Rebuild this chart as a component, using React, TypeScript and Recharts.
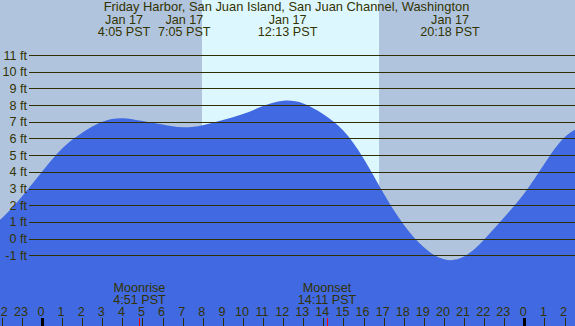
import React from 'react';
import { ComposedChart, Area, XAxis, YAxis, ReferenceArea } from 'recharts';

// Tide heights (ft) by hour from midnight Jan 17 (negative = Jan 16)
const hours = [-3, -2, -1, 0, 1, 2, 3, 4, 5, 6, 7, 8, 9, 10, 11, 12, 13, 14, 15, 16, 17, 18, 19, 20, 21, 22, 23, 24, 25, 26, 27];
const heights = [0.3, 1.22, 2.52, 4.0, 5.4, 6.35, 7.0, 7.21, 7.04, 6.84, 6.67, 6.8, 7.1, 7.46, 7.94, 8.26, 8.1, 7.45, 6.46, 4.8, 2.7, 0.83, -0.52, -1.24, -1.08, -0.05, 1.28, 2.72, 4.48, 6.07, 6.8];

const footTicks = [-1, 0, 1, 2, 3, 4, 5, 6, 7, 8, 9, 10, 11];
const hourTicks = [-2, -1, 0, 1, 2, 3, 4, 5, 6, 7, 8, 9, 10, 11, 12, 13, 14, 15, 16, 17, 18, 19, 20, 21, 22, 23, 24, 25, 26];
const hourLabels = ['22', '23', '0', '1', '2', '3', '4', '5', '6', '7', '8', '9', '10', '11', '12', '13', '14', '15', '16', '17', '18', '19', '20', '21', '22', '23', '0', '1', '2'];

const tideEventTimes = [4.08, 7.08, 12.22, 20.3];
const tideEventDates = ['Jan 17', 'Jan 17', 'Jan 17', 'Jan 17'];
const tideEventLabels = ['4:05 PST', '7:05 PST', '12:13 PST', '20:18 PST'];

const moonTimes = [4.85, 14.18];
const moonNames = ['Moonrise', 'Moonset'];
const moonLabels = ['4:51 PST', '14:11 PST'];

const sunrise = 7.96;
const sunset = 16.77;

const title = 'Friday Harbor, San Juan Island, San Juan Channel, Washington';

const data = hours.map((h, i) => ({ h, ft: heights[i] }));

const W = 575;
const H = 326;
const X_DOMAIN: [number, number] = [-2.09, 26.52];
const Y_DOMAIN: [number, number] = [-5.24, 14.3];
const TEXT = '#333300';
const LINE = '#2e2e00';
const FONT = '"Liberation Sans", Arial, sans-serif';
const FS = 12.6;

const FootTick = (props: any) => {
  const { y, payload } = props;
  const yy = Math.round(y) + 0.5;
  return (
    <g>
      <line x1={29} x2={W} y1={yy} y2={yy} stroke={LINE} strokeWidth={1} />
      <text x={27} y={y + 4.5} textAnchor="end" fill={TEXT} fontSize={FS} fontFamily={FONT}>
        {payload.value} ft
      </text>
    </g>
  );
};

const HourTick = (props: any) => {
  const { x, index, payload } = props;
  const label = hourLabels[index];
  const midnight = ((payload.value % 24) + 24) % 24 === 0;
  const xx = Math.round(x) + 0.5;
  return (
    <g>
      <text x={x - 1} y={316} textAnchor="middle" fill={TEXT} fontSize={FS} fontFamily={FONT}>
        {label}
      </text>
      <line
        x1={xx}
        x2={xx}
        y1={318}
        y2={326}
        stroke={midnight ? '#000000' : LINE}
        strokeWidth={midnight ? 3 : 1}
      />
    </g>
  );
};

const TideTick = (props: any) => {
  const { x, index } = props;
  return (
    <g>
      <text x={x} y={23.5} textAnchor="middle" fill={TEXT} fontSize={FS} fontFamily={FONT}>
        {tideEventDates[index]}
      </text>
      <text x={x} y={35.8} textAnchor="middle" fill={TEXT} fontSize={FS} fontFamily={FONT}>
        {tideEventLabels[index]}
      </text>
    </g>
  );
};

const MoonTick = (props: any) => {
  const { x, index } = props;
  const xx = Math.round(x) + 0.5;
  return (
    <g>
      <text x={x} y={291.7} textAnchor="middle" fill={TEXT} fontSize={FS} fontFamily={FONT}>
        {moonNames[index]}
      </text>
      <text x={x} y={303.8} textAnchor="middle" fill={TEXT} fontSize={FS} fontFamily={FONT}>
        {moonLabels[index]}
      </text>
      <line x1={xx} x2={xx} y1={318} y2={326} stroke="#ff0000" strokeWidth={1} />
    </g>
  );
};

export default function App() {
  return (
    <div style={{ position: 'absolute', left: 0, top: 0, width: W, height: H, background: '#b0c4de', overflow: 'hidden' }}>
      <ComposedChart width={W} height={H} data={data} margin={{ top: 0, right: 0, bottom: 0, left: 0 }}>
        <ReferenceArea
          xAxisId="hours"
          x1={sunrise}
          x2={sunset}
          fill="#ddf7ff"
          fillOpacity={1}
          stroke="none"
          ifOverflow="hidden"
        />
        <Area
          xAxisId="hours"
          dataKey="ft"
          type="natural"
          baseValue="dataMin"
          fill="#4169e1"
          fillOpacity={1}
          stroke="none"
          isAnimationActive={false}
          dot={false}
          activeDot={false}
        />
        <XAxis
          xAxisId="hours"
          dataKey="h"
          type="number"
          domain={X_DOMAIN}
          allowDataOverflow
          ticks={hourTicks}
          interval={0}
          mirror
          height={1}
          axisLine={false}
          tickLine={false}
          tick={<HourTick />}
        />
        <XAxis
          xAxisId="moon"
          dataKey="h"
          type="number"
          domain={X_DOMAIN}
          allowDataOverflow
          ticks={moonTimes}
          interval={0}
          mirror
          height={1}
          axisLine={false}
          tickLine={false}
          tick={<MoonTick />}
        />
        <XAxis
          xAxisId="tide"
          dataKey="h"
          orientation="top"
          type="number"
          domain={X_DOMAIN}
          allowDataOverflow
          ticks={tideEventTimes}
          interval={0}
          mirror
          height={1}
          axisLine={false}
          tickLine={false}
          tick={<TideTick />}
        />
        <YAxis
          type="number"
          domain={Y_DOMAIN}
          allowDataOverflow
          ticks={footTicks}
          interval={0}
          mirror
          width={1}
          axisLine={false}
          tickLine={false}
          tick={<FootTick />}
        />
      </ComposedChart>
      <svg width={W} height={20} style={{ position: 'absolute', left: 0, top: 0 }}>
        <text x={286.5} y={11} textAnchor="middle" fill={TEXT} fontSize={12.9} fontFamily={FONT}>
          {title}
        </text>
      </svg>
    </div>
  );
}
